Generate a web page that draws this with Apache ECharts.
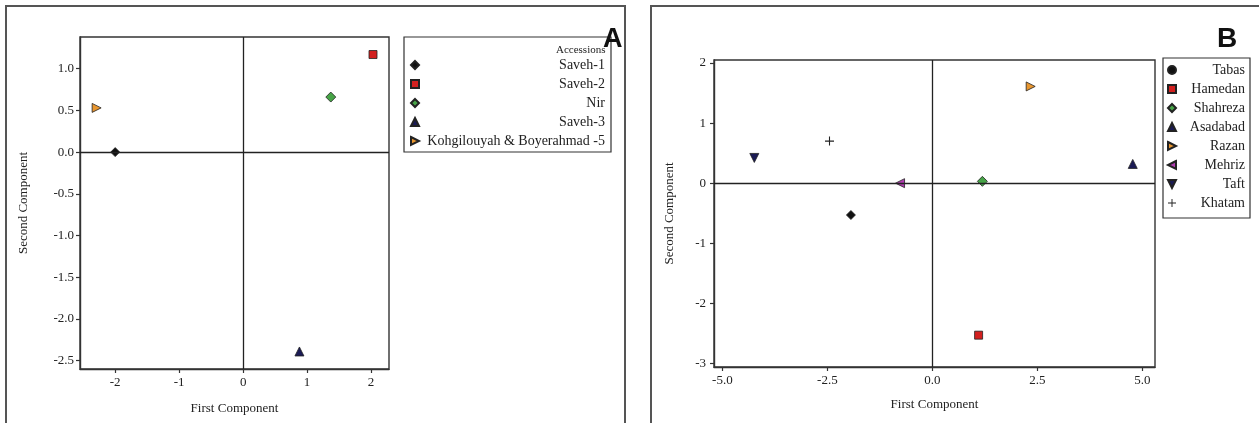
<!DOCTYPE html>
<html>
<head>
<meta charset="utf-8">
<script src="https://cdn.jsdelivr.net/npm/echarts@6/dist/echarts.min.js"></script>
<style>
  html, body { margin: 0; padding: 0; background: #fff; }
  #chart { width: 1259px; height: 423px; }
</style>
</head>
<body>
<div id="chart"></div>
<script>
// panel A: accessions
const accessionsA = ["Saveh-1", "Saveh-2", "Nir", "Saveh-3", "Kohgilouyah & Boyerahmad -5"];
const pc1A = [-2.0, 2.03, 1.37, 0.88, -2.29];
const pc2A = [0.0, 1.17, 0.66, -2.39, 0.53];
const xTicksA = [-2, -1, 0, 1, 2];
const yTicksA = [1.0, 0.5, 0.0, -0.5, -1.0, -1.5, -2.0, -2.5];

// panel B: locations
const locationsB = ["Tabas", "Hamedan", "Shahreza", "Asadabad", "Razan", "Mehriz", "Taft", "Khatam"];
const pc1B = [-1.94, 1.10, 1.19, 4.77, 2.34, -0.77, -4.24, -2.45];
const pc2B = [-0.53, -2.53, 0.03, 0.32, 1.61, 0.0, 0.42, 0.70];
const xTicksB = [-5.0, -2.5, 0.0, 2.5, 5.0];
const yTicksB = [2, 1, 0, -1, -2, -3];

const SERIF = "'Liberation Serif', 'DejaVu Serif', serif";
const RIGHT_TRI = "path://M0,0 L10,5 L0,10 Z";
const LEFT_TRI = "path://M10,0 L0,5 L10,10 Z";
const DOWN_TRI = "path://M0,0 L10,0 L5,10 Z";
const PLUS = "path://M4.4,0 H5.6 V4.4 H10 V5.6 H5.6 V10 H4.4 V5.6 H0 V4.4 H4.4 Z";

const styleA = [
  { symbol: "diamond", color: "#111", size: 9 },
  { symbol: "rect", color: "#d3201f", size: 8 },
  { symbol: "diamond", color: "#47a447", size: 10 },
  { symbol: "triangle", color: "#1b1b55", size: 9 },
  { symbol: RIGHT_TRI, color: "#e8962f", size: 9 }
];
const styleB = [
  { symbol: "diamond", color: "#111", size: 9, legendIcon: "circle" },
  { symbol: "rect", color: "#d3201f", size: 8 },
  { symbol: "diamond", color: "#47a447", size: 10 },
  { symbol: "triangle", color: "#1b1b55", size: 9 },
  { symbol: RIGHT_TRI, color: "#e8962f", size: 9 },
  { symbol: LEFT_TRI, color: "#b03cb0", size: 9 },
  { symbol: DOWN_TRI, color: "#1b1b55", size: 9 },
  { symbol: PLUS, color: "#222", size: 9 }
];

const crossLines = {
  silent: true,
  symbol: "none",
  label: { show: false },
  lineStyle: { color: "#222", width: 1.3, type: "solid" },
  data: [{ xAxis: 0 }, { yAxis: 0 }]
};

const makeSeries = (names, xs, ys, styles, axisIndex) =>
  names.map((name, i) => ({
    name,
    type: "scatter",
    xAxisIndex: axisIndex,
    yAxisIndex: axisIndex,
    symbol: styles[i].symbol,
    symbolSize: styles[i].size,
    itemStyle: {
      color: styles[i].color,
      borderColor: "#222",
      borderWidth: styles[i].symbol === PLUS ? 0 : 0.8,
      opacity: 1
    },
    data: [[xs[i], ys[i]]],
    markLine: i === 0 ? crossLines : undefined,
    z: 3
  }));

const axisBase = {
  type: "value",
  splitLine: { show: false },
  axisLine: { show: true, onZero: false, lineStyle: { color: "#333", width: 1.4 } },
  axisTick: { show: true, length: 4, lineStyle: { color: "#333", width: 1.2 } },
  nameLocation: "middle",
  nameTextStyle: { color: "#222", fontFamily: SERIF, fontSize: 13 }
};

const labelStyle = { color: "#222", fontFamily: SERIF, fontSize: 13 };

const legendText = (w) => ({
  color: "#222",
  fontFamily: SERIF,
  fontSize: 14,
  rich: { r: { width: w, align: "right", fontFamily: SERIF, fontSize: 14, lineHeight: 14, color: "#222" } }
});

const chart = echarts.init(document.getElementById("chart"));
chart.setOption({
  animation: false,
  backgroundColor: "#fff",
  graphic: [
    { type: "rect", shape: { x: 6, y: 6, width: 619, height: 440 },
      style: { fill: "none", stroke: "#555", lineWidth: 2 }, silent: true },
    { type: "rect", shape: { x: 651, y: 6, width: 640, height: 440 },
      style: { fill: "none", stroke: "#555", lineWidth: 2 }, silent: true }
  ],
  title: [
    { text: "A", left: 598, top: 21, textStyle: { fontFamily: "'Liberation Sans', Arial, sans-serif", fontWeight: "bold", fontSize: 27, color: "#111" } },
    { text: "B", left: 1212, top: 20, textStyle: { fontFamily: "'Liberation Sans', Arial, sans-serif", fontWeight: "bold", fontSize: 28, color: "#111" } },
    { text: "Accessions", left: 551, top: 40, textStyle: { fontFamily: SERIF, fontWeight: "normal", fontSize: 11, color: "#222" } }
  ],
  grid: [
    { left: 80, top: 37, width: 309, height: 332, show: true, borderColor: "#333", borderWidth: 1.4 },
    { left: 714, top: 60, width: 441, height: 307, show: true, borderColor: "#333", borderWidth: 1.4 }
  ],
  xAxis: [
    Object.assign({}, axisBase, {
      gridIndex: 0, min: -2.55, max: 2.28,
      name: "First Component", nameGap: 33,
      axisLabel: Object.assign({ customValues: xTicksA, formatter: (v) => String(v), margin: 7 }, labelStyle),
      axisTick: Object.assign({}, axisBase.axisTick, { customValues: xTicksA })
    }),
    Object.assign({}, axisBase, {
      gridIndex: 1, min: -5.2, max: 5.3,
      name: "First Component", nameGap: 31,
      axisLabel: Object.assign({ customValues: xTicksB, formatter: (v) => v.toFixed(1), margin: 7 }, labelStyle),
      axisTick: Object.assign({}, axisBase.axisTick, { customValues: xTicksB })
    })
  ],
  yAxis: [
    Object.assign({}, axisBase, {
      gridIndex: 0, min: -2.6, max: 1.38,
      name: "Second Component", nameGap: 50,
      axisLabel: Object.assign({ customValues: yTicksA, formatter: (v) => v.toFixed(1), margin: 6 }, labelStyle),
      axisTick: Object.assign({}, axisBase.axisTick, { customValues: yTicksA })
    }),
    Object.assign({}, axisBase, {
      gridIndex: 1, min: -3.06, max: 2.05,
      name: "Second Component", nameGap: 38,
      axisLabel: Object.assign({ customValues: yTicksB, formatter: (v) => String(v), margin: 8 }, labelStyle),
      axisTick: Object.assign({}, axisBase.axisTick, { customValues: yTicksB })
    })
  ],
  legend: [
    {
      data: accessionsA,
      orient: "vertical",
      left: 404, top: 37,
      padding: [21, 6, 4, 6],
      itemGap: 5, itemWidth: 8, itemHeight: 8,
      borderColor: "#333", borderWidth: 1.2,
      selectedMode: false,
      formatter: "{r|{name}}",
      textStyle: legendText(181)
    },
    {
      data: locationsB.map((name, i) => styleB[i].legendIcon ? { name, icon: styleB[i].legendIcon } : name),
      orient: "vertical",
      left: 1163, top: 58,
      padding: [5, 5, 8, 4],
      itemGap: 5, itemWidth: 8, itemHeight: 8,
      borderColor: "#333", borderWidth: 1.2,
      selectedMode: false,
      formatter: "{r|{name}}",
      textStyle: legendText(64)
    }
  ],
  series: makeSeries(accessionsA, pc1A, pc2A, styleA, 0).concat(makeSeries(locationsB, pc1B, pc2B, styleB, 1))
});
</script>
</body>
</html>
